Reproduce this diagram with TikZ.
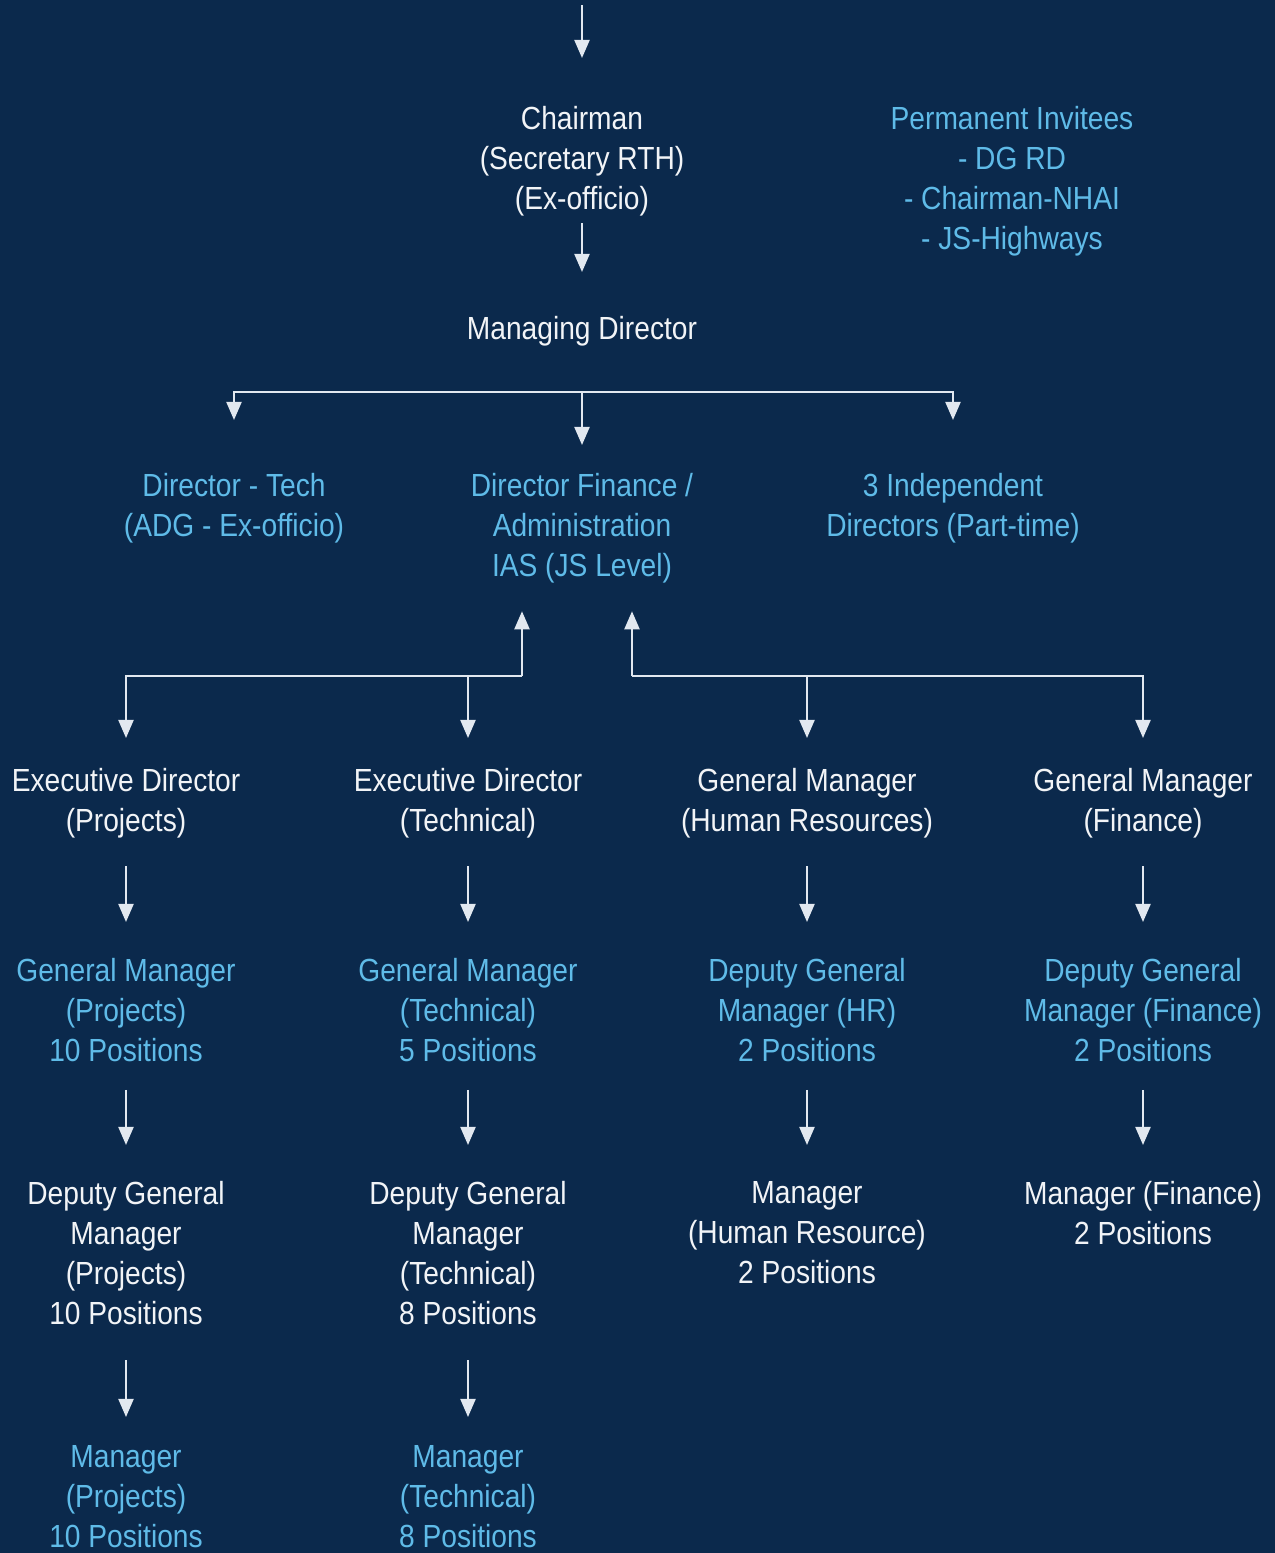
\documentclass[tikz,border=0pt]{standalone}
\usepackage{fontspec}
\setmainfont{Liberation Sans}[FakeStretch=0.88]
\usetikzlibrary{arrows.meta,positioning}
\definecolor{cBack}{HTML}{0B294C}
\definecolor{cPost}{HTML}{F2F4F7}
\definecolor{cSub}{HTML}{5FBBE8}
\definecolor{cLine}{HTML}{E2E8F0}
\tikzset{
  post/.style={align=center,inner sep=0pt,anchor=north,text=cPost,font=\fontsize{9.1}{11.38}\selectfont},
  sub/.style={post,text=cSub},
  arr/.style={-{Triangle[length=1.8mm,width=1.5mm]},line width=.6pt,cLine},
}
\begin{document}
\begin{tikzpicture}[x=0.01cm,y=-0.01cm]
  \fill[cBack] (0,0) rectangle (1275,1553);
  \useasboundingbox (0,0) rectangle (1275,1553);
  % ---------------- board
  \coordinate (topin) at (582,5);
  \node[post] (chair) at (582,106) {Chairman\\(Secretary RTH)\\(Ex-officio)};
  \node[sub] (inv) at (1012,106) {Permanent Invitees\\- DG RD\\- Chairman-NHAI\\- JS-Highways};
  \node[post] (md) at (582,316) {Managing Director};
  \draw[arr,shorten >=0.48cm] (topin) -- (chair.north);
  \draw[arr,shorten <=0.06cm,shorten >=0.44cm] (chair.south) -- (md.north);
  % ---------------- directors
  \node[sub] (dtech) at (234,473) {Director - Tech\\(ADG - Ex-officio)};
  \node[sub] (dfin) at (582,473) {Director Finance /\\Administration\\IAS (JS Level)};
  \node[sub] (indep) at (953,473) {3 Independent\\Directors (Part-time)};
  \coordinate (bar) at (582,392);
  \draw[arr,shorten >=0.53cm] (bar) -| (dtech.north);
  \draw[arr,shorten >=0.53cm] (bar) -| (indep.north);
  \draw[arr,shorten >=0.28cm] (bar) -- (dfin.north);
  % ---------------- heads of wings
  \node[post] (edp) at (126,768) {Executive Director\\(Projects)};
  \node[post] (edt) at (468,768) {Executive Director\\(Technical)};
  \node[post] (gmhr) at (807,768) {General Manager\\(Human Resources)};
  \node[post] (gmf) at (1143,768) {General Manager\\(Finance)};
  \coordinate (jl) at (522,676);
  \coordinate (jr) at (632,676);
  \draw[arr,shorten >=0.27cm] (jl) -- (jl |- dfin.south);
  \draw[arr,shorten >=0.27cm] (jr) -- (jr |- dfin.south);
  \draw[arr,shorten >=0.30cm] (jl) -| (edp.north);
  \draw[arr,shorten >=0.30cm] (edt.north |- jl) -- (edt.north);
  \draw[arr,shorten >=0.30cm] (jr) -| (gmf.north);
  \draw[arr,shorten >=0.30cm] (gmhr.north |- jr) -- (gmhr.north);
  % ---------------- second level
  \node[sub] (gmp) at (126,958) {General Manager\\(Projects)\\10 Positions};
  \node[sub] (gmt) at (468,958) {General Manager\\(Technical)\\5 Positions};
  \node[sub] (dgmhr) at (807,958) {Deputy General\\Manager (HR)\\2 Positions};
  \node[sub] (dgmf) at (1143,958) {Deputy General\\Manager (Finance)\\2 Positions};
  \foreach \a/\b in {edp/gmp,edt/gmt,gmhr/dgmhr,gmf/dgmf}{
    \draw[arr,shorten <=0.27cm,shorten >=0.36cm] (\a.south) -- (\b.north);
  }
  % ---------------- third level
  \node[post] (dgmp) at (126,1181) {Deputy General\\Manager\\(Projects)\\10 Positions};
  \node[post] (dgmt) at (468,1181) {Deputy General\\Manager\\(Technical)\\8 Positions};
  \node[post] (mhr) at (807,1181) {Manager\\(Human Resource)\\2 Positions};
  \node[post] (mf) at (1143,1181) {Manager (Finance)\\2 Positions};
  \foreach \a/\b in {gmp/dgmp,gmt/dgmt,dgmhr/mhr,dgmf/mf}{
    \draw[arr,shorten <=0.27cm,shorten >=0.36cm] (\a.south) -- (\b.north);
  }
  % ---------------- fourth level
  \node[sub] (mp) at (126,1445) {Manager\\(Projects)\\10 Positions};
  \node[sub] (mt) at (468,1445) {Manager\\(Technical)\\8 Positions};
  \foreach \a/\b in {dgmp/mp,dgmt/mt}{
    \draw[arr,shorten <=0.34cm,shorten >=0.28cm] (\a.south) -- (\b.north);
  }
\end{tikzpicture}
\end{document}
